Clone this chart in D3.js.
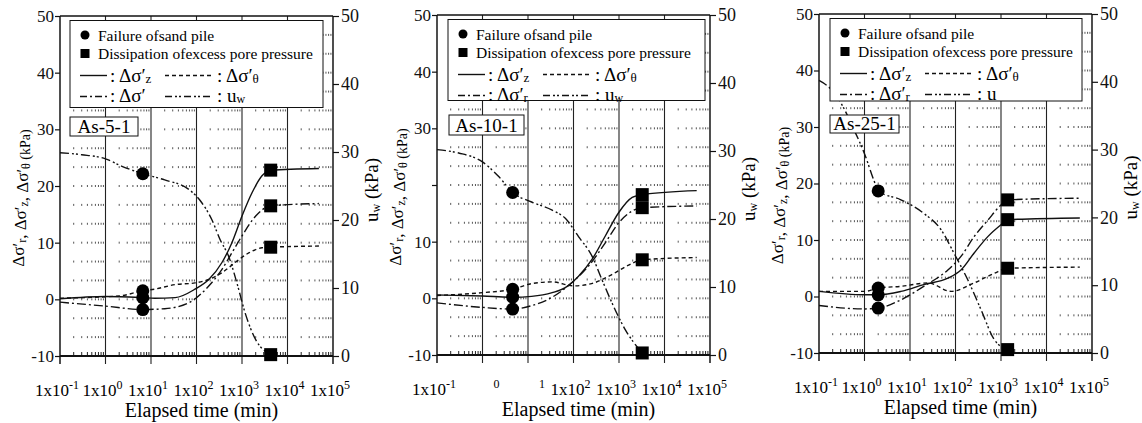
<!DOCTYPE html>
<html>
<head>
<meta charset="utf-8">
<script src="https://cdn.jsdelivr.net/npm/d3@7"></script>
<style>
  body { margin: 0; background: #fff; }
  #chart svg, #chart svg text { font-family: "Liberation Serif", "Times New Roman", Times, "DejaVu Serif", serif !important; }
</style>
</head>
<body>
<div id="chart"></div>
<script>
// axis ticks
const xTicks = [0.1, 1, 10, 100, 1000, 10000, 100000];
const xExps = ["-1", "0", "1", "2", "3", "4", "5"];
const leftTicks = [-10, 0, 10, 20, 30, 40, 50];
const rightTicks = [0, 10, 20, 30, 40, 50];

// As-5-1  (time in min, stress in kPa)
const a5Fail = 6.6, a5Diss = 4270;
const a5zT = [0.1, 1, 6.6, 12, 34, 93, 186, 363, 600, 1000, 1660, 2750, 4270, 49000];
const a5zV = [0.1, 0.5, 0.3, 0.2, 0.3, 1.8, 3.5, 6.5, 10, 14.7, 18.8, 21.8, 22.8, 23.1];
const a5thT = [0.1, 2, 6.6, 12, 34, 93, 186, 363, 710, 1410, 2750, 4270, 49000];
const a5thV = [0.2, 0.6, 1.5, 1.8, 2.6, 2.9, 3.5, 4.7, 6.5, 8.2, 9.1, 9.2, 9.4];
const a5rT = [0.1, 1, 6.6, 20, 68, 186, 363, 600, 1000, 2000, 4270, 49000];
const a5rV = [-0.5, -1.2, -1.8, -1.65, -0.6, 2.35, 5.3, 8.2, 11.2, 14.7, 16.5, 16.9];
const a5uT = [0.1, 0.3, 1, 2.3, 6.6, 20, 68, 132, 219, 331, 513, 776, 1175, 2000, 4270];
const a5uV = [29.9, 29.6, 29.0, 27.9, 26.8, 25.9, 24.5, 22.5, 20.0, 17.1, 14.6, 10.7, 6.3, 2.4, 0.2];

// As-10-1
const a10Fail = 4.6, a10Diss = 3240;
const a10zT = [0.1, 1, 4.6, 12, 34, 66, 129, 257, 500, 980, 1950, 3240, 51000];
const a10zV = [0.6, 0.4, 0.2, 0.35, 1.0, 1.9, 3.9, 6.9, 11.0, 15.1, 17.8, 18.3, 19.0];
const a10thT = [0.1, 1, 4.6, 12, 34, 100, 250, 630, 1580, 3240, 51000];
const a10thV = [0.5, 1.0, 1.6, 2.6, 2.9, 2.2, 2.6, 4.0, 5.8, 6.8, 7.2];
const a10rT = [0.1, 1, 4.6, 12, 34, 93, 214, 500, 980, 1950, 3240, 51000];
const a10rV = [-0.8, -1.6, -1.9, -1.3, 0.2, 2.8, 5.7, 9.8, 13.3, 15.4, 16.0, 16.3];
const a10uT = [0.1, 0.3, 1, 2.3, 4.6, 12, 34, 66, 129, 257, 427, 708, 1380, 3240];
const a10uV = [30.2, 29.7, 28.4, 26.2, 23.9, 22.5, 21.3, 20.1, 17.4, 14.5, 11.0, 7.6, 3.7, 0.3];

// As-25-1
const a25Fail = 2.0, a25Diss = 1400;
const a25zT = [0.1, 1, 2.0, 6.3, 20, 68, 132, 257, 513, 1000, 1400, 54000];
const a25zV = [0.9, 0.3, 0.3, 0.9, 2.1, 3.25, 4.7, 7.7, 10.6, 12.7, 13.6, 13.9];
const a25thT = [0.1, 1, 2.0, 6.3, 25, 80, 257, 708, 1400, 54000];
const a25thV = [0.9, 0.9, 1.5, 1.8, 2.4, 0.9, 2.4, 4.1, 5.0, 5.2];
const a25rT = [0.1, 1, 2.0, 6.3, 20, 68, 132, 257, 513, 1000, 1400, 54000];
const a25rV = [-1.6, -2.2, -2.05, -0.6, 1.8, 4.7, 7.1, 10.6, 13.5, 16.2, 17.1, 17.4];
const a25uT = [0.1, 0.19, 0.32, 0.59, 1, 1.6, 2.0, 6.3, 20, 48, 93, 186, 363, 708, 1400];
const a25uV = [40.2, 38.8, 36.6, 32.9, 29.4, 25.5, 23.9, 22.6, 20.6, 18.2, 14.7, 10.8, 6.4, 2.0, 0.5];

const zip = (t, v) => t.map((d, i) => ({ t: d, v: v[i] }));

const panels = [
  { name: "As-5-1", left: 60, right: 333, top: 16, bottom: 356,
    fail: a5Fail, diss: a5Diss, rLabel: "", uLabel: "w", hideLeft: [], hideX: [],
    legend: { x: 70, y: 20.5, w: 253, h: 87 }, tag: { x: 70, y: 117, w: 68, h: 19 },
    z: zip(a5zT, a5zV), th: zip(a5thT, a5thV), r: zip(a5rT, a5rV), u: zip(a5uT, a5uV) },
  { name: "As-10-1", left: 437, right: 710, top: 15, bottom: 355,
    fail: a10Fail, diss: a10Diss, rLabel: "r", uLabel: "w", hideLeft: [20], hideX: [1, 10],
    legend: { x: 448, y: 19.5, w: 257, h: 81 }, tag: { x: 449, y: 115, w: 75, h: 20 },
    z: zip(a10zT, a10zV), th: zip(a10thT, a10thV), r: zip(a10rT, a10rV), u: zip(a10uT, a10uV) },
  { name: "As-25-1", left: 819, right: 1092, top: 14, bottom: 353,
    fail: a25Fail, diss: a25Diss, rLabel: "r", uLabel: "", hideLeft: [], hideX: [],
    legend: { x: 830, y: 18.5, w: 252, h: 82.5 }, tag: { x: 830, y: 115, w: 69, h: 18 },
    z: zip(a25zT, a25zV), th: zip(a25thT, a25thV), r: zip(a25rT, a25rV), u: zip(a25uT, a25uV) }
];

const styles = {
  z: null,
  th: "4,3",
  r: "9,3,2,3",
  u: "9,3,2,2,2,3"
};

const svg = d3.select("#chart").append("svg")
  .attr("width", 1142).attr("height", 423);

function drawPanel(p) {
  const x = d3.scaleLog().domain([0.1, 1e5]).range([p.left, p.right]);
  const y = d3.scaleLinear().domain([-10, 50]).range([p.bottom, p.top]);
  const yR = d3.scaleLinear().domain([0, 50]).range([p.bottom, p.top]);
  const g = svg.append("g");

  // minor log positions
  const minors = [];
  for (let d = -1; d < 5; d++)
    for (let m = 2; m < 10; m++) minors.push(m * Math.pow(10, d));

  // dotted grid rows
  const rows = d3.range(1, 18).map(k => -10 + k * 10 / 3);
  rows.forEach(r => {
    g.append("g").selectAll("rect")
      .data(minors)
      .join("rect")
      .attr("x", d => x(d) - 0.5)
      .attr("y", y(r) - 1)
      .attr("width", 1)
      .attr("height", 2)
      .attr("fill", "#555");
  });

  // bottom minor ticks
  g.append("g").selectAll("line")
    .data(minors)
    .join("line")
    .attr("x1", d => x(d)).attr("x2", d => x(d))
    .attr("y1", p.bottom).attr("y2", p.bottom - 4)
    .attr("stroke", "#222").attr("stroke-width", 1);

  // decade lines
  g.append("g").selectAll("line")
    .data(xTicks)
    .join("line")
    .attr("x1", d => x(d)).attr("x2", d => x(d))
    .attr("y1", p.top).attr("y2", p.bottom + 8)
    .attr("stroke", "#222")
    .attr("stroke-width", (d, i) => (i === 0 || i === 6) ? 1.6 : 1.1);

  // frame
  g.append("line").attr("x1", p.left).attr("x2", p.right)
    .attr("y1", p.top).attr("y2", p.top)
    .attr("stroke", "#111").attr("stroke-width", 1.3);
  g.append("line").attr("x1", p.left).attr("x2", p.right)
    .attr("y1", p.bottom).attr("y2", p.bottom)
    .attr("stroke", "#111").attr("stroke-width", 2.2);

  // left axis
  const la = g.append("g")
    .attr("transform", `translate(${p.left},0)`)
    .call(d3.axisLeft(y).tickValues(leftTicks).tickSize(5).tickSizeOuter(0)
      .tickFormat(d => p.hideLeft.includes(d) ? "" : d));
  la.attr("font-family", null);
  la.select(".domain").remove();
  la.selectAll("line").attr("stroke", "#111").attr("stroke-width", 1.2);
  la.selectAll("text").attr("font-size", 17).attr("x", -6).attr("fill", "#111");

  // right axis
  const ra = g.append("g")
    .attr("transform", `translate(${p.right},0)`)
    .call(d3.axisRight(yR).tickValues(rightTicks).tickSize(6).tickSizeOuter(0));
  ra.attr("font-family", null);
  ra.select(".domain").remove();
  ra.selectAll("line").attr("stroke", "#111").attr("stroke-width", 1.2);
  ra.selectAll("text").attr("font-size", 18).attr("x", 8).attr("fill", "#111");

  // x tick labels with superscripts
  const xl = g.append("g").selectAll("text")
    .data(xTicks)
    .join("text")
    .attr("x", d => x(d) - 3)
    .attr("y", p.bottom + 40)
    .attr("text-anchor", "middle")
    .attr("font-size", 17);
  xl.append("tspan")
    .attr("visibility", d => p.hideX.includes(d) ? "hidden" : null)
    .text("1x10");
  xl.append("tspan")
    .attr("dy", -7).attr("font-size", 12)
    .text((d, i) => xExps[i]);

  // curves
  const line = (sc) => d3.line()
    .x(d => x(d.t)).y(d => sc(d.v))
    .curve(d3.curveMonotoneX);
  ["th", "r", "z", "u"].forEach(k => {
    g.append("path")
      .datum(p[k])
      .attr("d", line(k === "u" ? yR : y))
      .attr("fill", "none")
      .attr("stroke", "#111")
      .attr("stroke-width", 1.4)
      .attr("stroke-dasharray", styles[k]);
  });

  // markers
  ["z", "th", "r", "u"].forEach(k => {
    const sc = k === "u" ? yR : y;
    const f = p[k].find(d => d.t === p.fail);
    const s = p[k].find(d => d.t === p.diss);
    if (f) g.append("circle").attr("cx", x(f.t)).attr("cy", sc(f.v)).attr("r", 6.5).attr("fill", "#000");
    if (s) g.append("rect").attr("x", x(s.t) - 6.5).attr("y", sc(s.v) - 6.5)
      .attr("width", 13).attr("height", 13).attr("fill", "#000");
  });

  // legend box
  const L = p.legend;
  const lg = g.append("g").attr("transform", `translate(${L.x},${L.y})`);
  lg.append("rect").attr("width", L.w).attr("height", L.h)
    .attr("fill", "#fff").attr("stroke", "#111").attr("stroke-width", 1);
  lg.append("circle").attr("cx", 15).attr("cy", 14.5).attr("r", 4.5).attr("fill", "#000");
  lg.append("text").attr("x", 28).attr("y", 20).attr("font-size", 15.5).text("Failure ofsand pile");
  lg.append("rect").attr("x", 10.5).attr("y", 28.5).attr("width", 9).attr("height", 9).attr("fill", "#000");
  lg.append("text").attr("x", 28).attr("y", 38).attr("font-size", 15.5).text("Dissipation ofexcess pore pressure");
  const sample = (x1, x2, yy, k) => lg.append("line")
    .attr("x1", x1).attr("x2", x2).attr("y1", yy).attr("y2", yy)
    .attr("stroke", "#111").attr("stroke-width", 1.4)
    .attr("stroke-dasharray", styles[k] ? styles[k].replace(/9/g, "7") : null);
  const entry = (tx, ty, sub, prime) => {
    const t = lg.append("text").attr("x", tx).attr("y", ty).attr("font-size", 19);
    t.append("tspan").text(prime ? ": Δσ′" : ": u");
    t.append("tspan").attr("font-size", prime ? 13 : 12).attr("dy", 1).text(sub);
  };
  sample(10, 37, 55, "z"); entry(40, 61, "z", true);
  sample(95, 143, 55, "th"); entry(147, 61, "θ", true);
  sample(10, 37, 76, "r"); entry(40, 81, p.rLabel, true);
  sample(95, 143, 76, "u"); entry(147, 81, p.uLabel, false);

  // test tag
  const T = p.tag;
  g.append("rect").attr("x", T.x).attr("y", T.y).attr("width", T.w).attr("height", T.h)
    .attr("fill", "#fff").attr("stroke", "#111").attr("stroke-width", 1);
  g.append("text").attr("x", T.x + T.w / 2).attr("y", T.y + T.h - 3.5)
    .attr("text-anchor", "middle").attr("font-size", 19).text(p.name);

  // axis titles
  const lt = g.append("text")
    .attr("transform", `translate(${p.left - 36},${(p.top + p.bottom) / 2 + 12}) rotate(-90)`)
    .attr("text-anchor", "middle").attr("font-size", 17);
  [["Δσ′", "r"], [", Δσ′", "z"], [", Δσ′", "θ"]].forEach(([a, b]) => {
    lt.append("tspan").text(a);
    lt.append("tspan").attr("font-size", 12).attr("dy", 2).text(b);
    lt.append("tspan").attr("dy", -2).text("");
  });
  lt.append("tspan").attr("font-size", 14).text(" (kPa)");

  const rt = g.append("text")
    .attr("transform", `translate(${p.right + 45},${(p.top + p.bottom) / 2 + 4}) rotate(-90)`)
    .attr("text-anchor", "middle").attr("font-size", 19);
  rt.append("tspan").text("u");
  rt.append("tspan").attr("font-size", 12).attr("dy", 2).text("w");
  rt.append("tspan").attr("dy", -2).text("  (kPa)");

  g.append("text")
    .attr("x", (p.left + p.right) / 2 + 5)
    .attr("y", p.bottom + 61)
    .attr("text-anchor", "middle")
    .attr("font-size", 20)
    .text("Elapsed time (min)");
}

panels.forEach(drawPanel);
</script>
</body>
</html>
